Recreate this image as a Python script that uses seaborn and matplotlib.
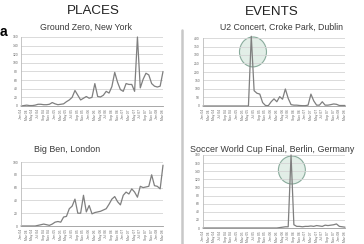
import numpy as np
import pandas as pd
import seaborn as sns
import matplotlib
matplotlib.use("Agg")
import matplotlib.pyplot as plt
from matplotlib.patches import Ellipse

# ---- data ----
ground_zero = [0, 1, 2, 1, 1, 2, 4, 4, 3, 3, 4, 8, 5, 3, 4, 5, 10, 14, 20, 36,
               25, 14, 18, 22, 18, 20, 52, 22, 21, 25, 34, 30, 45, 78, 55, 38, 34, 52, 50, 50,
               34, 160, 42, 62, 76, 72, 52, 46, 44, 46, 80]
u2_concert = [0, 0, 0, 0, 0, 0, 0, 0, 0, 0, 0, 0, 0, 0, 0, 0, 0, 410, 90, 75,
              70, 20, 3, 2, 25, 42, 25, 55, 40, 100, 45, 8, 5, 5, 3, 2, 2, 5, 70, 30,
              5, 5, 25, 5, 5, 8, 12, 10, 3, 3, 3]
big_ben = [0, 0, 0, 0, 0, 0, 1, 2, 3, 2, 1, 3, 6, 7, 6, 14, 15, 27, 31, 42,
           20, 20, 48, 22, 32, 19, 21, 22, 23, 25, 27, 34, 42, 46, 38, 33, 48, 53, 50, 58,
           53, 45, 62, 60, 61, 62, 80, 63, 62, 58, 95]
world_cup = [0, 0, 0, 0, 0, 0, 0, 0, 0, 0, 0, 0, 0, 0, 0, 0, 0, 0, 0, 0,
             0, 0, 0, 0, 0, 0, 0, 1, 2, 3, 3, 180, 8, 4, 4, 3, 4, 4, 5, 4,
             6, 5, 4, 7, 6, 7, 8, 10, 4, 3, 2]
x_labels = ["Jan 04", "Mar 04", "May 04", "Jul 04", "Sep 04", "Nov 04",
            "Jan 05", "Mar 05", "May 05", "Jul 05", "Sep 05", "Nov 05",
            "Jan 06", "Mar 06", "May 06", "Jul 06", "Sep 06", "Nov 06",
            "Jan 07", "Mar 07", "May 07", "Jul 07", "Sep 07", "Nov 07",
            "Jan 08", "Mar 08"]
titles = ["Ground Zero, New York", "U2 Concert, Croke Park, Dublin",
          "Big Ben, London", "Soccer World Cup Final, Berlin, Germany"]
headers = ["PLACES", "EVENTS"]
panel_letter = "a"

sns.set_theme(style="white")
plt.rcParams['font.family'] = ['Liberation Sans', 'DejaVu Sans']

W, H = 364, 244
fig = plt.figure(figsize=(W / 100, H / 100), dpi=100)

def px_axes(x0, x1, y_top, y_zero):
    return fig.add_axes([x0 / W, 1 - y_zero / H, (x1 - x0) / W, (y_zero - y_top) / H])

specs = [
    (ground_zero, px_axes(21, 163, 37, 106), 160, 20),
    (u2_concert, px_axes(203, 345, 38, 106), 400, 50),
    (big_ben, px_axes(21, 163, 162, 226), 100, 20),
    (world_cup, px_axes(203, 345, 155, 228), 180, 20),
]

for vals, ax, ymax, step in specs:
    df = pd.DataFrame({"t": np.arange(len(vals)), "v": vals})
    sns.lineplot(data=df, x="t", y="v", ax=ax, color="#7f7f7f", linewidth=0.9)
    for ln in ax.lines:
        ln.set_clip_on(False)
    ax.set_xlim(0, len(vals) - 1)
    ax.set_ylim(0, ymax)
    yt = np.arange(0, ymax + 1, step)
    ax.set_yticks(yt)
    ax.set_yticklabels([str(v) for v in yt], fontsize=2.4)
    ax.set_xticks(np.arange(0, len(vals), 2))
    ax.set_xticklabels(x_labels, rotation=90, fontsize=2.4)
    ax.set_xlabel("")
    ax.set_ylabel("")
    ax.grid(axis="y", color="#d4d4d4", linewidth=0.6)
    ax.grid(axis="x", visible=False)
    for s in ["top", "right"]:
        ax.spines[s].set_visible(False)
    ax.spines["left"].set_color("#bbbbbb")
    ax.spines["left"].set_linewidth(0.6)
    ax.spines["bottom"].set_color("#999999")
    ax.spines["bottom"].set_linewidth(0.6)
    ax.tick_params(axis="both", length=1.2, width=0.4, colors="#999999", pad=1)
    for lab in ax.get_xticklabels() + ax.get_yticklabels():
        lab.set_color("#666666")

# highlight ellipses on the event peaks
ax_u2 = specs[1][1]
ax_u2.add_patch(Ellipse((17.6, 318), 9.5, 176, facecolor="#d6e8de", edgecolor="#5f8c78",
                        alpha=0.7, linewidth=0.8, clip_on=False, zorder=0))
ax_wc = specs[3][1]
ax_wc.add_patch(Ellipse((31.3, 143), 9.5, 69, facecolor="#d6e8de", edgecolor="#5f8c78",
                        alpha=0.7, linewidth=0.8, clip_on=False, zorder=0))

# headers and titles
fig.text(93 / W, 1 - 11 / H, headers[0], ha="center", va="center", fontsize=9.6, color="#222222")
fig.text(272 / W, 1 - 12 / H, headers[1], ha="center", va="center", fontsize=9.6, color="#222222")
fig.text(85.5 / W, 1 - 27 / H, titles[0], ha="center", va="center", fontsize=6.3, color="#3a3a3a")
fig.text(281 / W, 1 - 27 / H, titles[1], ha="center", va="center", fontsize=6.3, color="#3a3a3a")
fig.text(67 / W, 1 - 149 / H, titles[2], ha="center", va="center", fontsize=6.4, color="#3a3a3a")
fig.text(272.5 / W, 1 - 150 / H, titles[3], ha="center", va="center", fontsize=6.4, color="#3a3a3a")
fig.text(3 / W, 1 - 32 / H, panel_letter, ha="center", va="center", fontsize=10,
         fontweight="bold", color="#000000")

# vertical divider
fig.add_artist(plt.Line2D([182 / W, 182 / W], [0, 1 - 30 / H], transform=fig.transFigure,
                          color="#c8c8c8", linewidth=1.8))

fig.savefig("out.png", dpi=100)
